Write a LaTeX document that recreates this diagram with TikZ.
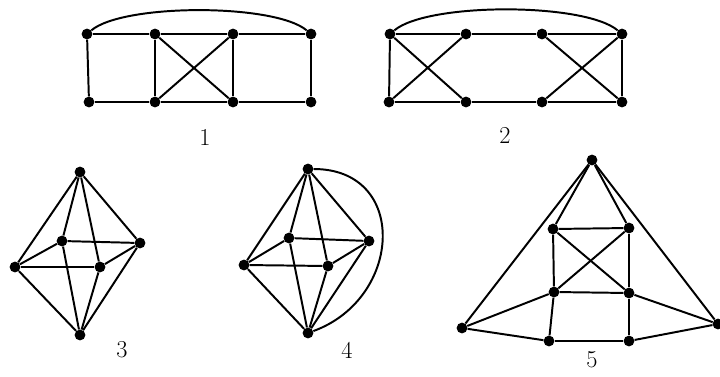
\documentclass[tikz,border=0pt]{standalone}
\usetikzlibrary{positioning}

\begin{document}
\begin{tikzpicture}[
  x=0.025cm, y=-0.025cm,
  vtx/.style={circle, fill=black, draw=none, inner sep=0pt, minimum size=0.27cm},
  link/.style={draw=black, line width=1.4pt},
  num/.style={font=\LARGE, inner sep=1pt},
]
\useasboundingbox (0,0) rectangle (720,376);

% graph 1
\node[vtx] (a1) at (87,34) {};
\node[vtx] (a2) at (155,34) {};
\node[vtx] (a3) at (233,34) {};
\node[vtx] (a4) at (311,34) {};
\node[vtx] (b1) at (89,102) {};
\node[vtx] (b2) at (155,102) {};
\node[vtx] (b3) at (233,102) {};
\node[vtx] (b4) at (311,102) {};
\node[num] (lab1) at (205,137) {1};
\foreach \u/\v in {a1/a2, a2/a3, a3/a4, b1/b2, b2/b3, b3/b4, a1/b1, a2/b2, a3/b3, a4/b4, a2/b3, a3/b2}
  \draw[link] (\u) -- (\v);
\draw[link] (a1) to[out=40, in=140, looseness=0.5] (a4);

% graph 2
\node[vtx] (c1) at (390,34) {};
\node[vtx] (c2) at (466,34) {};
\node[vtx] (c3) at (542,34) {};
\node[vtx] (c4) at (622,34) {};
\node[vtx] (d1) at (389,102) {};
\node[vtx] (d2) at (466,102) {};
\node[vtx] (d3) at (542,102) {};
\node[vtx] (d4) at (622,102) {};
\node[num] (lab2) at (505,135) {2};
\foreach \u/\v in {c1/c2, c2/c3, c3/c4, d1/d2, d2/d3, d3/d4, c1/d1, c4/d4, c1/d2, c2/d1, c3/d4, c4/d3}
  \draw[link] (\u) -- (\v);
\draw[link] (c1) to[out=40, in=140, looseness=0.5] (c4);

% graph 3
\node[vtx] (t3) at (80,172) {};
\node[vtx] (l3) at (15,267) {};
\node[vtx] (r3) at (140,243) {};
\node[vtx] (k3) at (62,241) {};
\node[vtx] (f3) at (100,267) {};
\node[vtx] (o3) at (80,335) {};
\node[num] (lab3) at (122,350) {3};
\foreach \u/\v in {t3/l3, t3/k3, t3/f3, t3/r3, o3/l3, o3/k3, o3/f3, o3/r3, l3/k3, l3/f3, k3/r3, f3/r3}
  \draw[link] (\u) -- (\v);

% graph 4
\node[vtx] (t4) at (308,169) {};
\node[vtx] (l4) at (244,265) {};
\node[vtx] (r4) at (369,241) {};
\node[vtx] (k4) at (289,238) {};
\node[vtx] (f4) at (328,266) {};
\node[vtx] (o4) at (308,333) {};
\node[num] (lab4) at (347,350) {4};
\foreach \u/\v in {t4/l4, t4/k4, t4/f4, t4/r4, o4/l4, o4/k4, o4/f4, o4/r4, l4/k4, l4/f4, k4/r4, f4/r4}
  \draw[link] (\u) -- (\v);
\draw[link] (t4) to[out=0, in=20, looseness=1.5] (o4);

% graph 5
\node[vtx] (top) at (592,160) {};
\node[vtx] (s1) at (553,229) {};
\node[vtx] (s2) at (629,228) {};
\node[vtx] (s3) at (554,292) {};
\node[vtx] (s4) at (629,293) {};
\node[vtx] (s5) at (549,341) {};
\node[vtx] (s6) at (629,341) {};
\node[vtx] (fl) at (462,328) {};
\node[vtx] (fr) at (718,324) {};
\node[num] (lab5) at (592,360) {5};
\foreach \u/\v in {top/fl, top/fr, top/s1, top/s2, s1/s2, s1/s3, s2/s4, s1/s4, s2/s3, s3/s4, s3/s5, s4/s6, s5/s6, fl/s3, fl/s5, fr/s4, fr/s6}
  \draw[link] (\u) -- (\v);
\end{tikzpicture}
\end{document}
